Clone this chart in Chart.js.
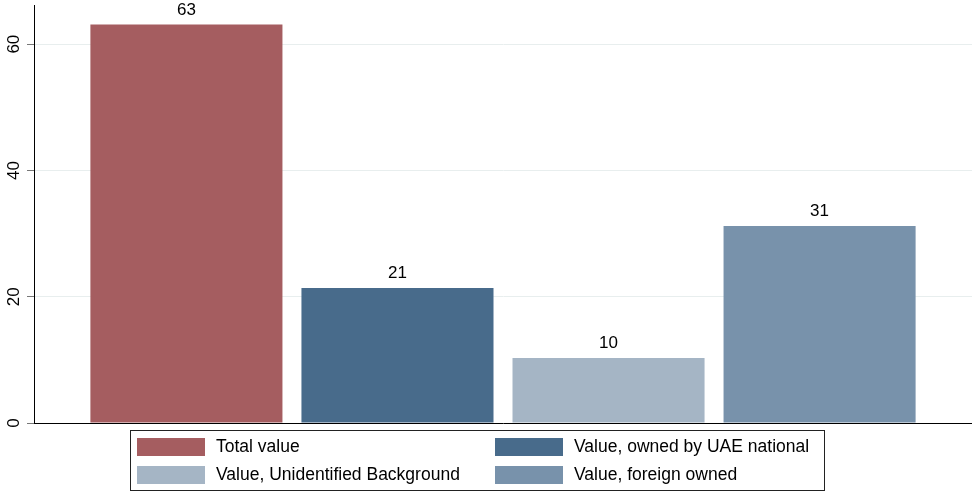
<!DOCTYPE html>
<html>
<head>
<meta charset="utf-8">
<script src="https://cdn.jsdelivr.net/npm/chart.js@4.4.0/dist/chart.umd.min.js"></script>
<style>
  html, body { margin: 0; padding: 0; background: #fff; }
  #wrap { width: 972px; height: 492px; position: relative; }
</style>
</head>
<body>
<div id="wrap"><canvas id="chart" width="972" height="492"></canvas></div>
<script>
// series (one bar each, like Stata's bar over variables)
const seriesNames = ['Total value', 'Value, owned by UAE national', 'Value, Unidentified Background', 'Value, foreign owned'];
const seriesValues = [63.1, 21.4, 10.3, 31.2];
const seriesColors = ['#a55d60', '#486b8b', '#a5b5c5', '#7892ab'];
const yTicks = [0, 20, 40, 60];

const FONT = '"Liberation Sans", Arial, sans-serif';

// rotated y tick labels (Stata style)
const yLabelsPlugin = {
    id: 'yLabels',
    afterDraw(chart) {
        const ctx = chart.ctx;
        const y = chart.scales.y;
        ctx.save();
        ctx.fillStyle = '#000';
        ctx.font = '17px ' + FONT;
        ctx.textAlign = 'center';
        ctx.textBaseline = 'middle';
        yTicks.forEach(t => {
            ctx.save();
            ctx.translate(14, y.getPixelForValue(t));
            ctx.rotate(-Math.PI / 2);
            ctx.fillText(String(t), 0, 0);
            ctx.restore();
        });
        ctx.restore();
    }
};

// value labels on top of bars
const barLabelsPlugin = {
    id: 'barLabels',
    afterDatasetsDraw(chart) {
        const ctx = chart.ctx;
        ctx.save();
        ctx.fillStyle = '#000';
        ctx.font = '17px ' + FONT;
        ctx.textAlign = 'center';
        ctx.textBaseline = 'bottom';
        chart.data.datasets.forEach((ds, i) => {
            const bar = chart.getDatasetMeta(i).data[0];
            ctx.fillText(String(Math.round(ds.data[0])), bar.x, bar.y - 6);
        });
        ctx.restore();
    }
};

// boxed two-column legend below the plot
const boxLegendPlugin = {
    id: 'boxLegend',
    afterDraw(chart) {
        const ctx = chart.ctx;
        const bx = 130, by = 430, bw = 695, bh = 61;
        ctx.save();
        ctx.fillStyle = '#fff';
        ctx.fillRect(bx, by, bw, bh);
        ctx.strokeStyle = '#222';
        ctx.lineWidth = 1;
        ctx.strokeRect(bx + 0.5, by + 0.5, bw - 1, bh - 1);
        ctx.font = '17.5px ' + FONT;
        ctx.textBaseline = 'middle';
        const cols = [137, 495];
        const rows = [438, 466];
        chart.data.datasets.forEach((ds, i) => {
            const cx = cols[i % 2], ry = rows[Math.floor(i / 2)];
            ctx.fillStyle = ds.backgroundColor;
            ctx.fillRect(cx, ry, 68, 18);
            ctx.fillStyle = '#000';
            ctx.fillText(ds.label, cx + 79, ry + 9.5);
        });
        ctx.restore();
    }
};

new Chart(document.getElementById('chart'), {
    type: 'bar',
    data: {
        labels: [''],
        datasets: seriesNames.map((name, i) => ({
            label: name,
            data: [seriesValues[i]],
            backgroundColor: seriesColors[i],
            borderWidth: 0,
            categoryPercentage: 0.9,
            barPercentage: 0.91
        }))
    },
    options: {
        responsive: false,
        animation: false,
        layout: { padding: { top: 5, right: 0, left: 0, bottom: 0 } },
        plugins: {
            legend: { display: false },
            tooltip: { enabled: false }
        },
        scales: {
            x: {
                ticks: { display: false },
                grid: { display: false },
                border: { display: true, color: '#000', width: 1 },
                afterFit: s => { s.height = 69; }
            },
            y: {
                min: 0,
                max: 66.2,
                afterBuildTicks: s => { s.ticks = yTicks.map(v => ({ value: v })); },
                ticks: { display: false },
                grid: {
                    color: '#e8eeee',
                    lineWidth: 1,
                    drawTicks: true,
                    tickLength: 7,
                    tickColor: '#777'
                },
                border: { display: true, color: '#000', width: 1 },
                afterFit: s => { s.width = 34; }
            }
        }
    },
    plugins: [yLabelsPlugin, barLabelsPlugin, boxLegendPlugin]
});
</script>
</body>
</html>
